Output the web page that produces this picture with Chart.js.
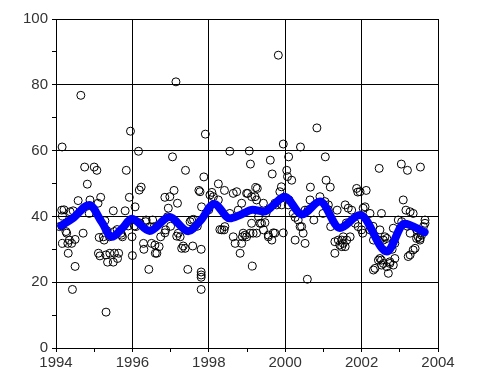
<!DOCTYPE html>
<html>
<head>
<meta charset="utf-8">
<script src="https://cdn.jsdelivr.net/npm/chart.js@4/dist/chart.umd.min.js"></script>
<style>
html, body { margin: 0; padding: 0; background: #fff; }
</style>
</head>
<body>
<canvas id="chart" width="480" height="384"></canvas>
<script>
// observed values [year, value]
const observations = [
  [1994.16,61.1],[1994.65,76.8],[1995.95,65.9],[1997.14,80.9],[1997.91,65.0],[1996.16,59.8],[1998.55,59.8],
  [1994.75,55.0],[1995.00,55.0],[1995.07,54.0],[1995.84,54.0],[1994.82,49.8],[1997.05,58.1],[1997.39,54.0],
  [1997.87,52.0],[1996.18,48.0],[1996.23,48.9],[1997.09,47.9],[1997.74,47.9],[1998.25,49.9],[1998.41,47.9],
  [1998.64,47.0],[1998.08,47.3],
  [1999.82,89.0],[2000.83,66.9],[1999.95,62.0],[2000.40,61.1],[1999.06,59.9],[1999.09,55.9],[1999.61,57.1],
  [2000.09,58.1],[2001.05,58.1],[1999.66,52.9],[2000.04,54.0],[2000.06,52.1],[2000.17,51.0],[2001.07,51.0],
  [2001.18,48.9],[2000.66,48.9],[2002.46,54.6],[2003.04,55.9],[2003.20,54.0],[2003.54,55.0],[2001.87,48.5],
  [2001.90,47.4],[2002.12,47.9],[1999.02,47.0],[1999.23,48.8],[1999.27,48.5],[1999.90,49.0],[2000.91,46.0],
  [1994.15,41.9],[1994.21,42.0],[1994.37,41.4],[1994.45,41.7],[1994.58,44.8],[1994.89,45.0],[1995.17,45.8],
  [1995.10,44.0],[1994.87,40.9],[1994.17,40.1],[1994.15,37.1],[1994.17,31.8],[1994.28,34.9],[1994.32,28.8],
  [1994.41,31.8],[1994.50,33.0],[1994.43,17.8],[1994.50,24.8],[1994.71,34.9],[1995.28,38.7],[1995.33,35.7],
  [1995.24,33.8],[1995.11,28.8],[1995.15,28.0],[1995.35,26.1],[1995.50,26.1],[1995.41,28.8],[1995.64,28.8],
  [1995.31,10.9],[1995.50,41.7],[1995.72,34.3],[1995.81,41.7],[1995.89,37.1],[1995.92,45.8],[1996.00,28.1],
  [1996.07,42.9],[1996.05,37.1],[1996.29,31.8],[1996.30,30.0],[1996.35,38.4],[1996.43,23.9],[1996.50,31.8],
  [1996.57,36.9],[1996.60,28.8],[1996.70,30.8],[1996.74,33.8],[1996.85,35.0],[1996.87,35.9],[1996.85,45.8],
  [1996.98,46.0],[1996.92,39.9],[1996.94,42.5],[1997.18,44.0],[1997.25,33.8],[1997.29,30.3],[1997.33,31.0],
  [1997.45,23.9],[1997.51,38.4],[1997.58,31.0],[1997.55,38.9],[1997.77,47.5],[1997.81,42.9],[1997.80,30.0],
  [1997.80,23.1],[1997.80,21.5],[1997.80,17.8],[1997.80,22.2],[1998.03,46.5],[1998.34,35.9],[1998.40,35.9],
  [1998.25,45.0],[1998.64,33.8],[1998.69,31.8],[1998.55,40.9],[1998.73,47.5],[1998.77,41.9],[1998.82,28.8],
  [1994.09,36.9],[1995.13,33.6],[1995.26,32.8],[1995.40,33.8],[1995.53,35.4],[1995.70,34.9],[1996.36,38.9],
  [1996.53,38.9],[1996.46,36.9],[1998.12,46.0],[1998.86,44.0],[1998.99,47.0],[1997.60,39.1],[1998.29,36.0],
  [1998.42,36.9],[1998.90,34.9],[1998.99,33.8],[1996.59,31.3],[1996.64,28.8],[1997.38,30.3],[1997.16,34.0],
  [1997.20,34.9],[1995.31,28.3],[1995.53,28.8],[1995.61,27.2],[1994.26,35.4],[1994.35,32.8],[1994.31,31.8],
  [1995.74,33.8],[1995.99,33.8],[1996.09,36.9],
  [1998.88,33.8],[1998.86,31.8],[1998.95,34.3],[1999.14,24.9],[1999.16,34.9],[1999.25,34.9],[1999.30,39.9],
  [1999.38,37.9],[1999.47,38.1],[1999.43,44.0],[1999.21,46.0],[1999.56,34.3],[1999.65,32.8],[1999.69,35.0],
  [1999.73,44.0],[1999.95,35.0],[2000.21,40.9],[2000.26,32.8],[2000.34,38.9],[2000.43,36.9],[2000.47,34.9],
  [2000.52,31.8],[2000.58,20.9],[2000.65,45.0],[2000.75,38.9],[2000.99,40.9],[2001.13,43.5],[2001.19,36.9],
  [2001.30,32.3],[2001.30,28.8],[2001.36,41.9],[2001.39,32.8],[2001.43,31.3],[2001.52,31.8],[2001.57,30.8],
  [2001.70,33.8],[2001.83,37.9],[2001.91,36.9],[2001.96,47.5],[2002.09,42.9],[2002.03,34.9],[2002.22,40.9],
  [2002.31,32.8],[2002.31,23.7],[2002.44,26.7],[2002.52,40.9],[2002.48,35.9],[2002.57,32.8],[2002.66,33.3],
  [2002.52,25.2],[2002.66,24.7],[2002.70,22.7],[2002.74,26.2],[2002.83,25.2],[2002.87,27.2],[2002.83,36.4],
  [2002.96,38.9],[2003.05,38.4],[2003.09,45.0],[2003.16,41.9],[2003.27,28.3],[2003.35,29.8],[2003.40,30.3],
  [2003.35,40.9],[2003.44,33.3],[2003.53,33.3],[2003.57,34.3],[2003.62,36.9],[2003.66,38.9],
  [1999.86,47.5],[1999.12,46.0],[1999.25,45.0],[1999.78,43.5],[1999.91,43.5],[2000.08,43.5],[2000.26,39.7],
  [2000.39,36.9],[2000.52,41.9],[2001.04,44.5],[2001.13,42.0],[1999.12,37.9],[1999.34,37.9],[1999.43,35.9],
  [1999.73,34.9],[1999.08,34.9],[1999.56,33.8],[2001.48,32.8],
  [2001.57,43.5],[2001.65,42.5],[2001.74,41.9],[2002.04,42.5],[2003.27,41.4],[2003.66,37.9],[2002.00,35.9],
  [2002.22,35.9],[2001.52,33.8],[2001.61,32.8],[2001.48,30.8],[2002.61,33.8],[2002.44,32.8],[2002.66,31.8],
  [2002.87,31.8],[2003.44,35.9],[2003.48,33.8],[2003.53,32.8],[2003.27,34.9],[2003.22,27.8],[2002.48,27.2],
  [2002.57,25.7],[2002.74,25.7],[2002.35,24.2],[2002.52,26.7],
  [1995.60,36.0],[1996.20,38.0],[1997.00,37.0],[1997.70,37.0],[1998.00,42.0],[1999.50,41.0],[2000.10,45.0],
  [2000.60,42.0],[2001.60,38.0],[2002.30,37.0],[2002.80,30.0],[2003.20,37.0]
];

// smoothed trend
const trendYears  = [1994.14, 1994.45, 1994.87, 1995.20, 1995.46, 1995.75, 1995.98, 1996.45, 1996.97, 1997.46,
                     1997.80, 1998.14, 1998.55, 1998.85, 1999.15, 1999.45, 1999.70, 1999.98, 2000.44, 2000.91,
                     2001.43, 2001.96, 2002.66, 2003.12, 2003.65];
const trendValues = [37.2, 39.5, 43.5, 38.2, 33.8, 36.6, 39.3, 35.6, 39.8, 35.5,
                     39.0, 43.8, 39.4, 40.6, 42.0, 41.5, 43.5, 46.0, 40.6, 44.5,
                     36.5, 40.4, 29.3, 37.8, 35.2];

const xTickValues = [1994, 1995, 1996, 1997, 1998, 1999, 2000, 2001, 2002, 2003, 2004];
const xTickLabels = ["1994", "", "1996", "", "1998", "", "2000", "", "2002", "", "2004"];
const yTickValues = [0, 10, 20, 30, 40, 50, 60, 70, 80, 90, 100];
const yTickLabels = ["0", "", "20", "", "40", "", "60", "", "80", "", "100"];

const tickFont = { family: "'Liberation Sans', Arial, sans-serif", size: 15 };

new Chart(document.getElementById("chart"), {
  type: "scatter",
  data: {
    datasets: [
      {
        type: "line",
        data: trendYears.map((x, i) => ({ x: x, y: trendValues[i] })),
        borderColor: "#0000ff",
        borderWidth: 8,
        pointRadius: 0,
        showLine: true,
        fill: false,
        cubicInterpolationMode: "monotone",
        borderCapStyle: "round",
        borderJoinStyle: "round"
      },
      {
        data: observations.map(p => ({ x: p[0], y: p[1] })),
        pointRadius: 4,
        pointBorderColor: "#000",
        pointBackgroundColor: "rgba(0,0,0,0)",
        pointBorderWidth: 1
      }
    ]
  },
  options: {
    responsive: false,
    animation: false,
    layout: { padding: { left: 0, right: 42, top: 19, bottom: 0 } },
    plugins: { legend: { display: false }, tooltip: { enabled: false } },
    scales: {
      x: {
        type: "linear",
        min: 1994,
        max: 2004,
        afterBuildTicks: axis => { axis.ticks = xTickValues.map(v => ({ value: v })); },
        afterFit: scale => { scale.height = 36; },
        border: { color: "#000", width: 1 },
        grid: {
          color: ctx => (ctx.tick && ctx.tick.value % 2 === 0) ? "#000" : "rgba(0,0,0,0)",
          tickColor: "#000",
          tickLength: 4,
          lineWidth: 1
        },
        ticks: {
          font: tickFont,
          color: "#333",
          padding: 2,
          maxRotation: 0,
          autoSkip: false,
          callback: (v) => xTickLabels[xTickValues.indexOf(v)]
        }
      },
      y: {
        min: 0,
        max: 100,
        afterBuildTicks: axis => { axis.ticks = yTickValues.map(v => ({ value: v })); },
        afterFit: scale => { scale.width = 56; },
        border: { color: "#000", width: 1 },
        grid: {
          color: ctx => (ctx.tick && ctx.tick.value % 20 === 0) ? "#000" : "rgba(0,0,0,0)",
          tickColor: "#000",
          tickLength: 4,
          lineWidth: 1
        },
        ticks: {
          font: tickFont,
          color: "#333",
          padding: 4,
          autoSkip: false,
          callback: (v) => yTickLabels[yTickValues.indexOf(v)]
        }
      }
    }
  }
});
</script>
</body>
</html>
